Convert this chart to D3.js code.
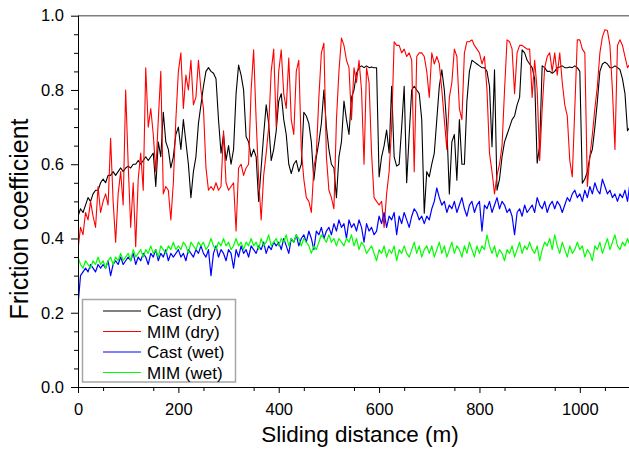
<!DOCTYPE html>
<html>
<head>
<meta charset="utf-8">
<script src="https://cdn.jsdelivr.net/npm/d3@7"></script>
<style>
  html, body { margin: 0; padding: 0; background: #fff; }
  svg { display: block; }
  text { font-family: "Liberation Sans", Arial, Helvetica, sans-serif; fill: #000; }
</style>
</head>
<body>
<svg id="chart" width="629" height="454"></svg>
<script>
// Sampling grid (sliding distance, m) shared by all series
const distance = d3.range(0, 1101, 5);

const seriesNames = ["Cast (dry)", "MIM (dry)", "Cast (wet)", "MIM (wet)"];
const seriesColors = ["#000000", "#ff0000", "#0000ff", "#00ff00"];

const xTicks = [0, 200, 400, 600, 800, 1000];
const yTicks = [0.0, 0.2, 0.4, 0.6, 0.8, 1.0];

const castDry = [
  0.46, 0.48, 0.47, 0.49, 0.51, 0.50, 0.52, 0.53, 0.53, 0.55,
  0.56, 0.55, 0.57, 0.57, 0.58, 0.57, 0.58, 0.59, 0.58, 0.59,
  0.595, 0.59, 0.60, 0.60, 0.61, 0.60, 0.61, 0.62, 0.61, 0.62,
  0.63, 0.54, 0.66, 0.62, 0.74, 0.66, 0.64, 0.59, 0.62, 0.68,
  0.70, 0.64, 0.72, 0.66, 0.60, 0.51, 0.58, 0.62, 0.71, 0.76,
  0.81, 0.85, 0.86, 0.85, 0.845, 0.83, 0.72, 0.63, 0.68, 0.61,
  0.65, 0.60, 0.64, 0.79, 0.867, 0.84, 0.80, 0.674, 0.66, 0.62,
  0.64, 0.62, 0.50, 0.59, 0.68, 0.76, 0.71, 0.61, 0.64, 0.69,
  0.77, 0.79, 0.72, 0.68, 0.60, 0.575, 0.60, 0.61, 0.58, 0.60,
  0.74, 0.73, 0.71, 0.66, 0.557, 0.62, 0.66, 0.71, 0.80, 0.70,
  0.64, 0.60, 0.59, 0.51, 0.62, 0.66, 0.77, 0.72, 0.68, 0.78,
  0.80, 0.845, 0.86, 0.865, 0.86, 0.865, 0.86, 0.862, 0.86, 0.86,
  0.566, 0.62, 0.65, 0.692, 0.63, 0.81, 0.62, 0.595, 0.60, 0.70,
  0.81, 0.55, 0.68, 0.80, 0.81, 0.80, 0.79, 0.72, 0.468, 0.58,
  0.566, 0.60, 0.63, 0.72, 0.81, 0.854, 0.80, 0.70, 0.52, 0.66,
  0.68, 0.557, 0.72, 0.60, 0.60, 0.77, 0.85, 0.88, 0.875, 0.87,
  0.865, 0.86, 0.86, 0.85, 0.81, 0.647, 0.854, 0.53, 0.56, 0.62,
  0.66, 0.68, 0.70, 0.72, 0.73, 0.76, 0.78, 0.908, 0.90, 0.88,
  0.87, 0.86, 0.83, 0.603, 0.65, 0.865, 0.86, 0.85, 0.85, 0.845,
  0.85, 0.86, 0.862, 0.865, 0.86, 0.86, 0.862, 0.86, 0.865, 0.86,
  0.85, 0.549, 0.56, 0.58, 0.62, 0.64, 0.70, 0.77, 0.85, 0.87,
  0.875, 0.87, 0.86, 0.86, 0.865, 0.86, 0.855, 0.83, 0.79, 0.69,
  0.70
];

const mimDry = [
  0.37, 0.43, 0.41, 0.47, 0.45, 0.50, 0.46, 0.43, 0.54, 0.47,
  0.50, 0.52, 0.49, 0.67, 0.50, 0.39, 0.52, 0.58, 0.49, 0.80,
  0.60, 0.43, 0.55, 0.378, 0.56, 0.63, 0.53, 0.86, 0.70, 0.75,
  0.68, 0.58, 0.72, 0.85, 0.52, 0.54, 0.53, 0.45, 0.55, 0.72,
  0.85, 0.90, 0.75, 0.84, 0.80, 0.88, 0.76, 0.78, 0.88, 0.80,
  0.75, 0.59, 0.53, 0.54, 0.53, 0.55, 0.53, 0.54, 0.69, 0.55,
  0.53, 0.54, 0.55, 0.42, 0.59, 0.60, 0.57, 0.59, 0.60, 0.80,
  0.908, 0.72, 0.56, 0.45, 0.57, 0.63, 0.70, 0.85, 0.91, 0.70,
  0.85, 0.908, 0.79, 0.75, 0.886, 0.72, 0.68, 0.85, 0.88, 0.64,
  0.56, 0.51, 0.50, 0.47, 0.59, 0.63, 0.78, 0.90, 0.926, 0.62,
  0.53, 0.51, 0.48, 0.72, 0.85, 0.94, 0.92, 0.88, 0.86, 0.72,
  0.86, 0.82, 0.88, 0.80, 0.60, 0.86, 0.82, 0.63, 0.51, 0.50,
  0.49, 0.50, 0.43, 0.52, 0.58, 0.70, 0.93, 0.92, 0.92, 0.90,
  0.91, 0.89, 0.90, 0.88, 0.58, 0.89, 0.90, 0.90, 0.89, 0.85,
  0.78, 0.90, 0.87, 0.89, 0.87, 0.80, 0.72, 0.64, 0.78, 0.82,
  0.91, 0.89, 0.75, 0.72, 0.90, 0.93, 0.93, 0.935, 0.92, 0.91,
  0.90, 0.87, 0.89, 0.80, 0.63, 0.58, 0.52, 0.57, 0.60, 0.65,
  0.80, 0.935, 0.93, 0.91, 0.79, 0.90, 0.92, 0.92, 0.915, 0.91,
  0.91, 0.78, 0.88, 0.80, 0.61, 0.75, 0.86, 0.89, 0.90, 0.85,
  0.90, 0.84, 0.90, 0.82, 0.76, 0.73, 0.61, 0.566, 0.75, 0.935,
  0.935, 0.91, 0.90, 0.54, 0.62, 0.68, 0.75, 0.81, 0.90, 0.943,
  0.962, 0.96, 0.92, 0.80, 0.64, 0.92, 0.935, 0.92, 0.89, 0.86,
  0.87
];

const castWet = [
  0.22, 0.30, 0.31, 0.32, 0.31, 0.33, 0.32, 0.31, 0.33, 0.32,
  0.33, 0.32, 0.34, 0.30, 0.33, 0.34, 0.33, 0.35, 0.33, 0.34,
  0.35, 0.34, 0.36, 0.33, 0.35, 0.34, 0.36, 0.35, 0.33, 0.36,
  0.35, 0.37, 0.34, 0.36, 0.35, 0.37, 0.34, 0.36, 0.35, 0.36,
  0.37, 0.35, 0.36, 0.34, 0.37, 0.36, 0.35, 0.37, 0.36, 0.38,
  0.36, 0.35, 0.37, 0.30, 0.36, 0.38, 0.35, 0.37, 0.36, 0.34,
  0.37, 0.36, 0.32, 0.37, 0.35, 0.38, 0.36, 0.37, 0.35, 0.38,
  0.37, 0.36, 0.38, 0.37, 0.39, 0.36, 0.38, 0.37, 0.39, 0.38,
  0.39, 0.37, 0.40, 0.38, 0.36, 0.40, 0.39, 0.41, 0.38, 0.40,
  0.41, 0.39, 0.42, 0.40, 0.37, 0.42, 0.41, 0.43, 0.40, 0.42,
  0.43, 0.41, 0.44, 0.42, 0.45, 0.43, 0.44, 0.40, 0.45, 0.43,
  0.44, 0.42, 0.45, 0.43, 0.39, 0.44, 0.42, 0.43, 0.41, 0.42,
  0.46, 0.44, 0.47, 0.43, 0.46, 0.45, 0.47, 0.41, 0.46, 0.44,
  0.47, 0.45, 0.43, 0.46, 0.48, 0.47, 0.45, 0.46, 0.44, 0.46,
  0.45, 0.48, 0.50, 0.536, 0.51, 0.49, 0.50, 0.47, 0.49, 0.48,
  0.50, 0.47, 0.49, 0.51, 0.48, 0.46, 0.49, 0.50, 0.47, 0.49,
  0.50, 0.42, 0.49, 0.48, 0.50, 0.47, 0.49, 0.51, 0.48, 0.50,
  0.49, 0.47, 0.48, 0.46, 0.41, 0.47, 0.48, 0.46, 0.49, 0.47,
  0.48, 0.49, 0.47, 0.51, 0.49, 0.48, 0.50, 0.47, 0.49, 0.50,
  0.48, 0.50, 0.49, 0.47, 0.49, 0.51, 0.50, 0.52, 0.53, 0.51,
  0.52, 0.50, 0.53, 0.51, 0.54, 0.52, 0.55, 0.53, 0.52, 0.56,
  0.54, 0.52, 0.53, 0.51, 0.52, 0.50, 0.52, 0.51, 0.53, 0.50,
  0.55
];

const mimWet = [
  0.35, 0.33, 0.32, 0.34, 0.33, 0.32, 0.34, 0.33, 0.35, 0.33,
  0.34, 0.32, 0.34, 0.35, 0.33, 0.35, 0.34, 0.36, 0.34, 0.35,
  0.36, 0.34, 0.37, 0.35, 0.36, 0.37, 0.35, 0.37, 0.36, 0.38,
  0.36, 0.37, 0.35, 0.38, 0.37, 0.36, 0.38, 0.37, 0.39, 0.37,
  0.38, 0.37, 0.39, 0.38, 0.36, 0.39, 0.38, 0.37, 0.39, 0.38,
  0.39, 0.37, 0.38, 0.40, 0.38, 0.37, 0.39, 0.38, 0.40, 0.38,
  0.39, 0.37, 0.38, 0.40, 0.38, 0.39, 0.37, 0.39, 0.38, 0.40,
  0.38, 0.39, 0.37, 0.40, 0.38, 0.39, 0.41, 0.38, 0.39, 0.40,
  0.38, 0.40, 0.39, 0.41, 0.38, 0.40, 0.39, 0.41, 0.40, 0.38,
  0.40, 0.39, 0.38, 0.36, 0.38, 0.37, 0.39, 0.41, 0.40, 0.39,
  0.41, 0.39, 0.40, 0.38, 0.40, 0.39, 0.38, 0.40, 0.39, 0.41,
  0.38, 0.40, 0.37, 0.39, 0.38, 0.36, 0.37, 0.38, 0.36, 0.34,
  0.37, 0.36, 0.38, 0.35, 0.37, 0.36, 0.38, 0.34, 0.37, 0.36,
  0.38, 0.36, 0.35, 0.37, 0.39, 0.36, 0.38, 0.35, 0.37, 0.38,
  0.36, 0.38, 0.35, 0.37, 0.39, 0.36, 0.38, 0.35, 0.37, 0.39,
  0.36, 0.38, 0.37, 0.35, 0.38, 0.36, 0.39, 0.37, 0.35, 0.38,
  0.36, 0.38, 0.37, 0.41, 0.38, 0.36, 0.38, 0.35, 0.37, 0.36,
  0.34, 0.37, 0.36, 0.38, 0.35, 0.37, 0.39, 0.36, 0.38, 0.37,
  0.39, 0.37, 0.36, 0.38, 0.34, 0.37, 0.39, 0.38, 0.40, 0.37,
  0.41, 0.38, 0.36, 0.39, 0.37, 0.35, 0.38, 0.36, 0.37, 0.39,
  0.37, 0.38, 0.35, 0.37, 0.36, 0.34, 0.38, 0.37, 0.39, 0.36,
  0.38, 0.40, 0.37, 0.39, 0.41, 0.38, 0.37, 0.39, 0.38, 0.40,
  0.38
];

const allSeries = [castDry, mimDry, castWet, mimWet];

// ---------- layout ----------
const svg = d3.select("#chart");
const plotLeft = 78, plotRight = 630, plotTop = 15.7, plotBottom = 387;
const x = d3.scaleLinear().domain([0, 1100]).range([plotLeft, plotRight]);
const y = d3.scaleLinear().domain([0, 1]).range([plotBottom, plotTop]);

svg.append("defs").append("clipPath").attr("id", "plotClip")
  .append("rect").attr("x", plotLeft).attr("y", plotTop - 1)
  .attr("width", plotRight - plotLeft).attr("height", plotBottom - plotTop + 1);

// top frame line (gray)
svg.append("line")
  .attr("x1", plotLeft).attr("x2", 629).attr("y1", plotTop).attr("y2", plotTop)
  .attr("stroke", "#7f7f7f").attr("stroke-width", 1.5);

// data lines
const line = d3.line().x((d, i) => x(distance[i])).y(d => y(d));
const plot = svg.append("g").attr("clip-path", "url(#plotClip)");
allSeries.forEach((s, k) => {
  plot.append("path")
    .datum(s)
    .attr("d", line)
    .attr("fill", "none")
    .attr("stroke", seriesColors[k])
    .attr("stroke-width", k < 2 ? 1.1 : 1.2)
    .attr("stroke-linejoin", "round");
});

// ---------- axes ----------
const fontFam = '"Liberation Sans", Arial, Helvetica, sans-serif';

const yMinor = d3.range(1, 20, 1).filter(i => i % 4 !== 0).map(i => i * 0.05);
svg.append("g").attr("transform", `translate(${plotLeft},0)`)
  .call(d3.axisLeft(y).tickValues(yMinor).tickSize(4).tickFormat(""))
  .call(g => g.select(".domain").remove())
  .call(g => g.selectAll("line").attr("stroke", "#000"));

const yAxis = svg.append("g").attr("transform", `translate(${plotLeft},0)`)
  .call(d3.axisLeft(y).tickValues(yTicks).tickSize(7).tickPadding(7).tickFormat(d3.format(".1f")));
yAxis.select(".domain").attr("stroke", "#000").attr("d", `M0.5,${plotTop}V${plotBottom}`);
yAxis.selectAll("line").attr("stroke", "#000");
yAxis.selectAll("text").attr("font-size", 16.5).attr("font-family", fontFam).attr("fill", "#000");

const xMinor = d3.range(50, 1101, 100);
svg.append("g").attr("transform", `translate(0,${plotBottom})`)
  .call(d3.axisBottom(x).tickValues(xMinor).tickSize(4).tickFormat(""))
  .call(g => g.select(".domain").remove())
  .call(g => g.selectAll("line").attr("stroke", "#000"));

const xAxis = svg.append("g").attr("transform", `translate(0,${plotBottom})`)
  .call(d3.axisBottom(x).tickValues(xTicks).tickSize(6).tickPadding(10).tickFormat(d3.format("d")));
xAxis.select(".domain").attr("stroke", "#000").attr("d", `M${plotLeft},0.5H629`);
xAxis.selectAll("line").attr("stroke", "#000");
xAxis.selectAll("text").attr("font-size", 16.5).attr("font-family", fontFam).attr("fill", "#000");

// axis titles
svg.append("text")
  .attr("x", 360).attr("y", 442)
  .attr("text-anchor", "middle")
  .attr("font-size", 22.5)
  .text("Sliding distance (m)");

svg.append("text")
  .attr("transform", "translate(28,219) rotate(-90)")
  .attr("text-anchor", "middle")
  .attr("font-size", 25)
  .text("Friction coefficient");

// ---------- legend ----------
const legend = svg.append("g");
legend.append("rect")
  .attr("x", 82.5).attr("y", 299.5).attr("width", 153).attr("height", 82.5)
  .attr("fill", "#fff").attr("stroke", "#a6a6a6").attr("stroke-width", 1.5);
const rowY = [311, 331.5, 352, 372.5];
seriesNames.forEach((name, k) => {
  legend.append("line")
    .attr("x1", 103).attr("x2", 141)
    .attr("y1", rowY[k]).attr("y2", rowY[k])
    .attr("stroke", seriesColors[k]).attr("stroke-width", 1);
  legend.append("text")
    .attr("x", 147).attr("y", rowY[k] + 6)
    .attr("font-size", 17)
    .text(name);
});
</script>
</body>
</html>
